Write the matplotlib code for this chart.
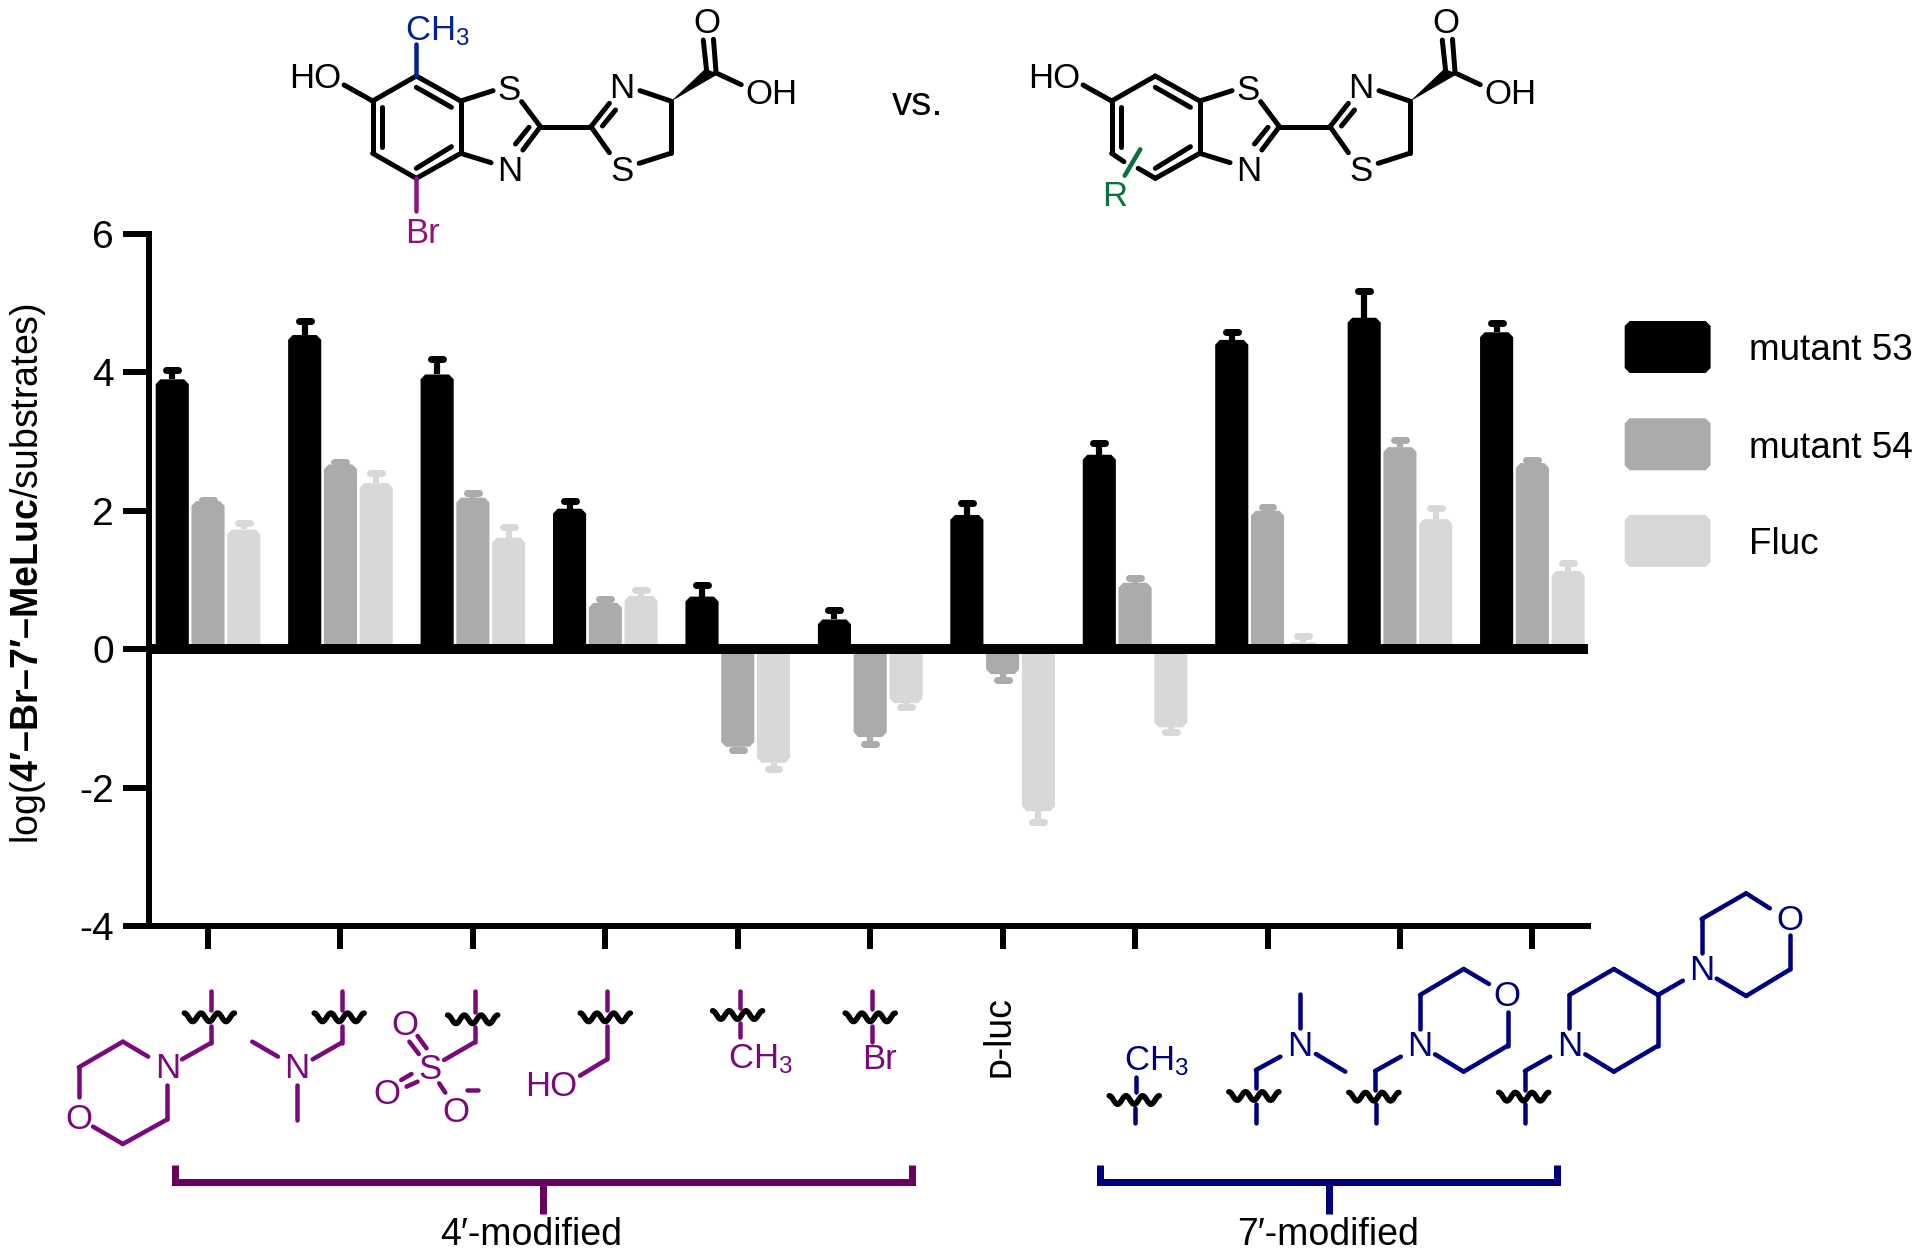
import numpy as np
import matplotlib
matplotlib.use("Agg")
import matplotlib.pyplot as plt
from matplotlib.patches import Polygon

plt.rcParams['font.family'] = ['Liberation Sans', 'DejaVu Sans']
plt.rcParams['mathtext.fontset'] = 'custom'
plt.rcParams['mathtext.rm'] = 'Liberation Sans'
plt.rcParams['mathtext.bf'] = 'Liberation Sans:bold'
plt.rcParams['mathtext.default'] = 'regular'

# Data, one value per substrate
series_names = ["mutant 53", "mutant 54", "Fluc"]
series_colors = ["#000000", "#ababab", "#d8d8d8"]
mutant53 = [3.90, 4.54, 3.97, 2.03, 0.76, 0.43, 1.94, 2.81, 4.47, 4.79, 4.58]
mutant53_tops = [4.03, 4.75, 4.20, 2.14, 0.93, 0.56, 2.11, 2.98, 4.59, 5.17, 4.71]
mutant54 = [2.14, 2.67, 2.19, 0.67, -1.41, -1.27, -0.36, 0.96, 2.00, 2.92, 2.69]
mutant54_tops = [2.16, 2.71, 2.26, 0.72, -1.46, -1.37, -0.44, 1.03, 2.06, 3.03, 2.74]
fluc = [1.73, 2.40, 1.61, 0.77, -1.64, -0.78, -2.34, -1.13, 0.10, 1.88, 1.13]
fluc_tops = [1.82, 2.55, 1.76, 0.85, -1.73, -0.83, -2.49, -1.19, 0.19, 2.04, 1.25]
y_ticks = [6, 4, 2, 0, -2, -4]

W, H = 1920, 1255
PURPLE = "#7a0a7a"
DARK_PURPLE = "#690060"
BLUE = "#00007f"
TOP_BLUE = "#00238f"
MAGENTA = "#93127e"
GREEN = "#0a7040"
LABEL_FS = 25


def px(v):
    return v * 0.72


fig = plt.figure(figsize=(W / 100, H / 100), dpi=100)

# Axes placed so that y=6 sits at 234px, y=-4 at 926px
ax = fig.add_axes([149.4 / W, 1 - 926 / H, (1588 - 149.4) / W, (926 - 234) / H])
ax.set_ylim(-4, 6)
ax.set_xlim(-0.4426, 10.42)
ax.patch.set_alpha(0)

offset = 0.27
bar_w = 0.25
dx = 0.035
dy = 0.07
for k, (vals, tops) in enumerate(zip([mutant53, mutant54, fluc],
                                     [mutant53_tops, mutant54_tops, fluc_tops])):
    color = series_colors[k]
    for i, (v, t) in enumerate(zip(vals, tops)):
        x = i + (k - 1) * offset
        s = np.sign(v)
        d = min(dy, abs(v))
        ax.add_patch(Polygon([(x - bar_w / 2, 0), (x - bar_w / 2, v - s * d),
                              (x - bar_w / 2 + dx, v), (x + bar_w / 2 - dx, v),
                              (x + bar_w / 2, v - s * d), (x + bar_w / 2, 0)],
                             closed=True, fc=color, ec='none', zorder=2))
        ax.vlines(x, v, t, color=color, lw=px(6.2), zorder=2)
        ax.hlines(t, x - 0.045, x + 0.045, color=color, lw=px(7), capstyle='round', zorder=2)

ax.axhline(0, color='black', lw=px(10), zorder=3)

for side in ['top', 'right']:
    ax.spines[side].set_visible(False)
for side in ['left', 'bottom']:
    ax.spines[side].set_linewidth(px(6))
ax.set_xticks(range(11))
ax.set_xticklabels([])
ax.set_yticks(y_ticks)
ax.set_yticklabels([str(t) for t in y_ticks], fontsize=28)
ax.tick_params(axis='y', length=px(26), width=px(6), pad=7)
ax.tick_params(axis='x', length=px(23), width=px(6))

# Overlay in pixel coordinates for the legend and the drawn structures
ov = fig.add_axes([0, 0, 1, 1], zorder=5)
ov.set_xlim(0, W)
ov.set_ylim(H, 0)
ov.axis('off')
ov.patch.set_alpha(0)

ov.text(28, 574, "log($\\mathbf{4\u2032\u2013Br\u20137\u2032\u2013MeLuc}$/substrates)",
        rotation=90, ha='center', va='center', fontsize=27)

swatch_tops = [321, 418.3, 515]
for name, color, top in zip(series_names, series_colors, swatch_tops):
    l, r, b, c = 1624.7, 1710.6, top + 52, 5
    ov.add_patch(Polygon([(l + c, top), (r - c, top), (r, top + c), (r, b - c),
                          (r - c, b), (l + c, b), (l, b - c), (l, top + c)],
                         closed=True, fc=color, ec='none'))
    ov.text(1749, top + 30, name, fontsize=26.6, ha='left', va='center')


# Converters from reading positions to pixels
def conv(x0, y0, fx=2.45, fy=3.0):
    return lambda p: (x0 + p[0] / fx, y0 + p[1] / fy)


def bonds(segs, z, color, lw=4.5):
    for a, b in segs:
        pa, pb = z(a), z(b)
        ov.plot([pa[0], pb[0]], [pa[1], pb[1]], color=color, lw=px(lw),
                solid_capstyle='round', solid_joinstyle='round')


def atom(p, s, z, color, fs=LABEL_FS):
    q = z(p)
    ov.text(q[0], q[1] + 2.5, s, color=color, fontsize=fs, ha='center', va='center')


def squiggle(p, z):
    cx, cy = z(p)
    t = np.linspace(-1, 1, 80)
    ov.plot(cx + 25 * t, cy + 4.2 * np.cos(t * 3 * np.pi), color='black', lw=px(5.6),
            solid_capstyle='round')


def core(z, left_lower=True):
    segs = [((255, 255), (325, 303)), ((325, 303), (432, 228)), ((432, 228), (541, 303)),
            ((541, 303), (541, 460)), ((541, 460), (432, 535)),
            ((325, 460), (325, 303)), ((348, 320), (348, 440)), ((432, 262), (518, 322)),
            ((432, 505), (518, 440)), ((541, 303), (620, 272)), ((541, 460), (615, 488)),
            ((690, 305), (736, 380)), ((736, 380), (693, 450)), ((708, 382), (675, 432)),
            ((736, 380), (860, 380)), ((860, 380), (905, 310)), ((888, 378), (920, 330)),
            ((860, 380), (905, 458)), ((978, 490), (1055, 460)), ((1055, 460), (1055, 303)),
            ((1055, 303), (980, 272)), ((1135, 120), (1143, 210)), ((1160, 118), (1166, 212)),
            ((1165, 218), (1228, 254))]
    if left_lower:
        segs.append(((432, 535), (325, 460)))
    else:
        segs += [((325, 460), (355, 485)), ((390, 505), (432, 535))]
    bonds(segs, z, 'black', 5)
    ov.add_patch(Polygon([z((1055, 305)), z((1172, 222)), z((1140, 206))], closed=True,
                         fc='black', ec='none'))
    for p, s in [((185, 228), "HO"), ((660, 265), "S"), ((660, 507), "N"), ((935, 257), "N"),
                 ((935, 507), "S"), ((1143, 62), "O"), ((1302, 277), "OH")]:
        atom(p, s, z, 'black')


z1 = conv(240, 0)
core(z1)
bonds([((432, 228), (432, 132))], z1, TOP_BLUE)
bonds([((432, 535), (432, 632))], z1, MAGENTA)
atom((483, 85), "CH$_3$", z1, TOP_BLUE)
atom((447, 692), "Br", z1, MAGENTA)
ov.text(918, 104, "vs.", fontsize=29, ha='center', va='center')

z2 = conv(979, 0)
core(z2, left_lower=False)
bonds([((395, 448), (357, 527))], z2, GREEN)
atom((332, 582), "R", z2, GREEN)

# 4'-modified fragments
z3 = conv(40, 960)
bonds([((419, 92), (419, 150)), ((420, 198), (420, 248)), ((420, 248), (348, 298)),
       ((265, 290), (203, 245)), ((203, 245), (95, 322)), ((95, 322), (95, 412)),
       ((130, 500), (203, 552)), ((203, 552), (312, 478)), ((312, 478), (312, 375)),
       ((739, 92), (739, 150)), ((739, 198), (739, 248)), ((739, 248), (668, 298)),
       ((583, 290), (520, 245)), ((630, 375), (630, 480)),
       ((1065, 92), (1065, 155)), ((1066, 200), (1066, 246)), ((1066, 246), (990, 300)),
       ((905, 245), (928, 282)), ((925, 228), (947, 265)),
       ((885, 360), (910, 342)), ((898, 380), (925, 365)),
       ((978, 370), (993, 398)), ((1045, 390), (1073, 390)),
       ((1389, 92), (1389, 150)), ((1389, 198), (1389, 298)), ((1389, 298), (1323, 347))],
      z3, PURPLE)
for p, s in [((312, 318), "N"), ((95, 472), "O"), ((630, 318), "N"), ((955, 320), "S"),
             ((893, 188), "O"), ((850, 395), "O"), ((1018, 450), "O"), ((1252, 372), "HO")]:
    atom(p, s, z3, PURPLE)
for p in [(415, 172), (733, 172), (1060, 178), (1385, 172)]:
    squiggle(p, z3)

z4 = conv(660, 960)
bonds([((195, 92), (195, 145)), ((195, 190), (195, 230)),
       ((519, 92), (519, 147)), ((519, 197), (519, 246))], z4, PURPLE)
atom((245, 290), "CH$_3$", z4, PURPLE)
atom((537, 292), "Br", z4, PURPLE)
squiggle((190, 165), z4)
squiggle((515, 172), z4)
ov.text(999, 1037, "\u1d05-luc", rotation=90, fontsize=27, ha='center', va='center')

# 7'-modified fragments
bonds([((1167, 352), (1167, 395)), ((1164, 445), (1164, 490)),
       ((1520, 290), (1460, 330)), ((1460, 330), (1460, 385)), ((1460, 432), (1460, 490))],
      z4, BLUE)
atom((1217, 295), "CH$_3$", z4, BLUE)
squiggle((1162, 420), z4)
squiggle((1455, 408), z4)

z5 = conv(1280, 880)
bonds([((50, 342), (50, 445)), ((88, 522), (160, 575)),
       ((296, 530), (233, 573)), ((233, 573), (233, 630)), ((235, 672), (235, 730)),
       ((343, 447), (343, 345)), ((343, 345), (450, 267)), ((450, 267), (512, 312)),
       ((558, 395), (558, 497)), ((558, 497), (450, 575)), ((450, 575), (380, 523)),
       ((662, 530), (600, 573)), ((600, 573), (600, 630)), ((601, 672), (601, 730)),
       ((709, 445), (709, 345)), ((709, 345), (818, 267)), ((818, 267), (926, 345)),
       ((926, 345), (926, 497)), ((926, 497), (818, 575)), ((818, 575), (748, 523)),
       ((926, 345), (987, 302)), ((1033, 218), (1033, 117)), ((1033, 117), (1142, 40)),
       ((1142, 40), (1200, 85)), ((1250, 165), (1250, 268)), ((1250, 268), (1142, 348)),
       ((1142, 348), (1070, 296))], z5, BLUE)
for p, s in [((48, 492), "N"), ((343, 492), "N"), ((557, 342), "O"),
             ((711, 492), "N"), ((1033, 265), "N"), ((1248, 115), "O")]:
    atom(p, s, z5, BLUE)
squiggle((230, 650), z5)
squiggle((597, 650), z5)


# Brackets
def bracket(x0, x1, xm, color):
    ov.plot([x0, x0, x1, x1], [1165, 1182, 1182, 1165], color=color, lw=px(7),
            solid_joinstyle='miter', solid_capstyle='butt')
    ov.plot([xm, xm], [1182, 1214], color=color, lw=px(7), solid_capstyle='butt')


bracket(175, 912, 543, DARK_PURPLE)
bracket(1100, 1557, 1329, BLUE)
ov.text(531, 1235, "4\u2032-modified", fontsize=27, ha='center', va='center')
ov.text(1328, 1235, "7\u2032-modified", fontsize=27, ha='center', va='center')

fig.savefig("out.png", dpi=100)
